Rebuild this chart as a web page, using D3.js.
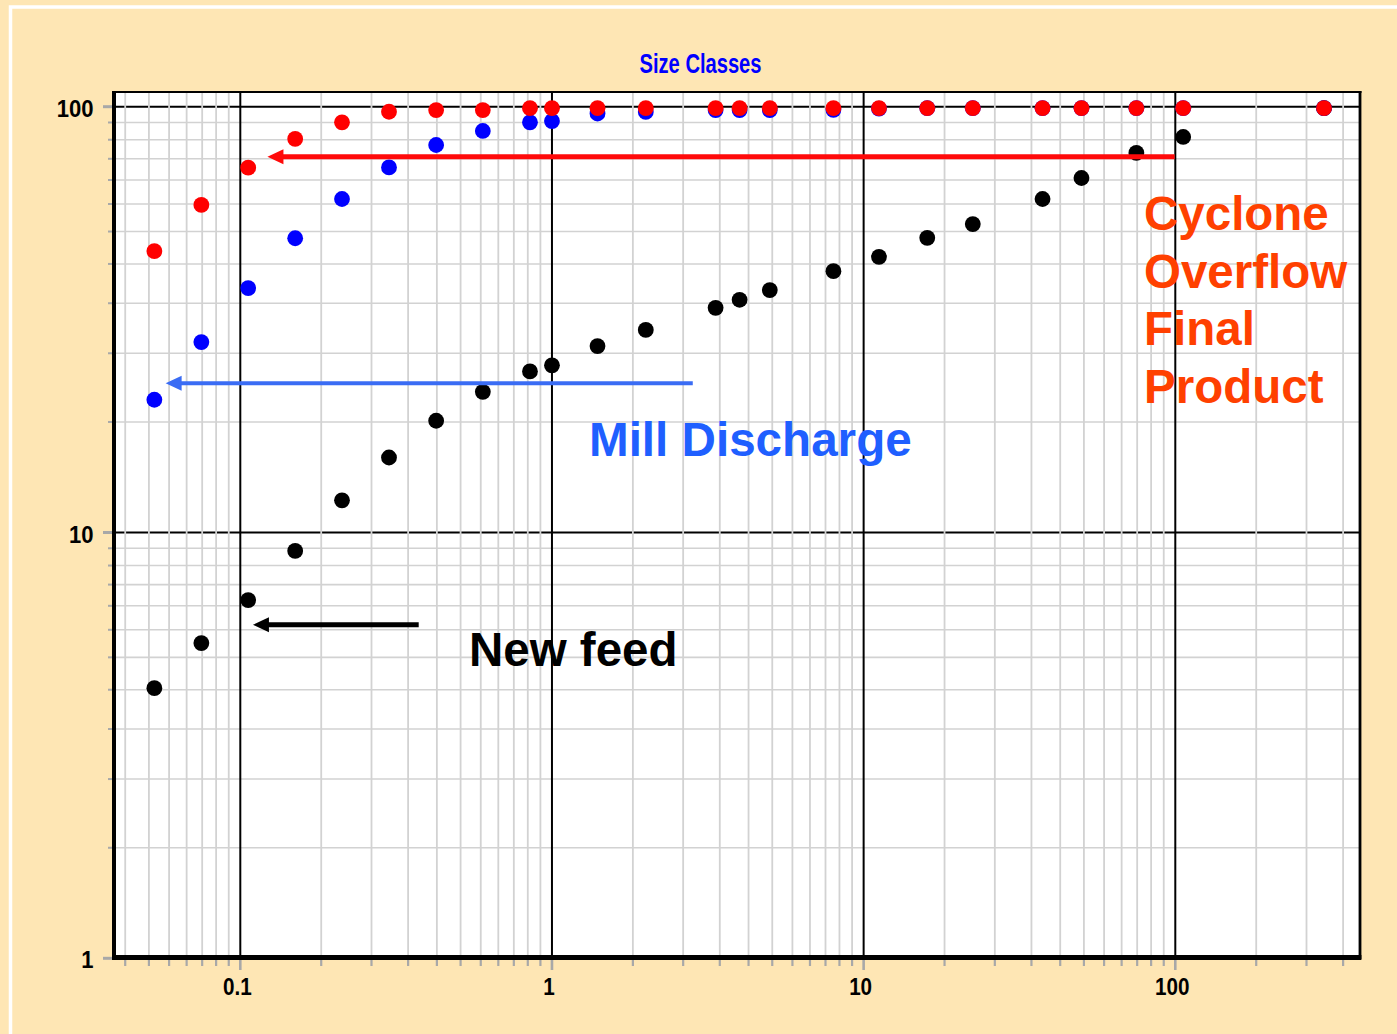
<!DOCTYPE html>
<html>
<head>
<meta charset="utf-8">
<script src="https://cdn.jsdelivr.net/npm/d3@7"></script>
<style>
  html, body { margin: 0; padding: 0; background: #fee6b4; }
  svg { display: block; }
</style>
</head>
<body>
<svg id="chart" width="1397" height="1034"></svg>
<script>
// Sieve size classes (mm) and cumulative % passing for each stream
const sizeClasses = [0.053, 0.075, 0.106, 0.15, 0.212, 0.3, 0.425, 0.6, 0.85, 1.0, 1.4, 2.0,
                     3.35, 4.0, 5.0, 8.0, 11.2, 16, 22.4, 37.5, 50, 75, 106, 300];
const newFeed = [4.31, 5.50, 6.94, 9.05, 11.9, 15.0, 18.3, 21.4, 23.9, 24.7, 27.4, 29.9,
                 33.7, 35.2, 37.1, 41.1, 44.4, 49.2, 53.0, 60.7, 68.0, 77.9, 84.9, 99.2];
const millDischarge = [20.5, 28.0, 37.5, 49.1, 60.7, 72.0, 81.3, 87.7, 91.9, 92.5, 96.4, 97.2,
                       98.2, 98.2, 98.2, 98.3, 99.0, 99.2, 99.2, 99.2, 99.2, 99.2, 99.2, 99.2];
const cycloneOverflow = [45.8, 58.8, 71.9, 84.0, 91.9, 97.3, 98.2, 98.2, 99.2, 99.2, 99.2, 99.2,
                         99.2, 99.2, 99.2, 99.2, 99.2, 99.2, 99.2, 99.2, 99.2, 99.2, 99.2, 99.2];

// Axis ticks
const xMajorTicks = [0.1, 1, 10, 100];
const xTickLabels = ["0.1", "1", "10", "100"];
const yMajorTicks = [1, 10, 100];
const yTickLabels = ["1", "10", "100"];
// minor grid multipliers inside each decade
const minorSteps = [1.818, 2.636, 3.455, 4.273, 5.091, 5.909, 6.727, 7.545, 8.364, 9.182];
const decades = [0.01, 0.1, 1, 10, 100];

// Annotation arrows [x from, x tip, y] in data units
const redArrow = [99.5, 0.1222, 76.3];
const blueArrow = [2.83, 0.0576, 22.4];
const blackArrow = [0.3736, 0.1098, 6.07];

const svg = d3.select("#chart");
const W = 1397, H = 1034;
const box = { left: 114, right: 1360, top: 92, bottom: 957 };

const x = d3.scaleLog().domain([0.1, 100]).range([240.3, 1175.3]);
const y = d3.scaleLog().domain([1, 100]).range([958.3, 106.7]);

const xLo = x.invert(box.left), xHi = x.invert(box.right);
const yLo = y.invert(box.bottom), yHi = y.invert(box.top);

// background and white frame
svg.append("rect").attr("width", W).attr("height", H).attr("fill", "#fee6b4");
svg.append("rect").attr("x", 10.5).attr("y", 7).attr("width", W + 20).attr("height", H + 20)
  .attr("fill", "none").attr("stroke", "#ffffff").attr("stroke-width", 3.5);

// plot area
svg.append("rect").attr("x", box.left).attr("y", box.top)
  .attr("width", box.right - box.left).attr("height", box.bottom - box.top)
  .attr("fill", "#ffffff");

const minorVals = [];
decades.forEach(d => minorSteps.forEach(s => minorVals.push(d * s)));
const xMinor = minorVals.filter(v => v > xLo && v < xHi);
const yMinor = minorVals.filter(v => v > yLo && v < yHi);

const grid = svg.append("g");
// horizontal minor grid
grid.selectAll(".hmin").data(yMinor).join("line")
  .attr("x1", box.left).attr("x2", box.right)
  .attr("y1", d => y(d)).attr("y2", d => y(d))
  .attr("stroke", "#d2d2d2").attr("stroke-width", 1.6);
// horizontal major grid
grid.selectAll(".hmaj").data(yMajorTicks.filter(v => v > yLo && v < yHi)).join("line")
  .attr("x1", box.left).attr("x2", box.right)
  .attr("y1", d => y(d)).attr("y2", d => y(d))
  .attr("stroke", "#000000").attr("stroke-width", 2);
// vertical minor grid
grid.selectAll(".vmin").data(xMinor).join("line")
  .attr("y1", box.top).attr("y2", box.bottom)
  .attr("x1", d => x(d)).attr("x2", d => x(d))
  .attr("stroke", "#d2d2d2").attr("stroke-width", 1.8);
// vertical major grid
grid.selectAll(".vmaj").data(xMajorTicks).join("line")
  .attr("y1", box.top).attr("y2", box.bottom)
  .attr("x1", d => x(d)).attr("x2", d => x(d))
  .attr("stroke", "#000000").attr("stroke-width", 2);

// tick marks outside the frame
const ticks = svg.append("g").attr("stroke", "#a8a8a8");
ticks.selectAll(".yt").data(yMinor).join("line")
  .attr("x1", 108).attr("x2", box.left).attr("y1", d => y(d)).attr("y2", d => y(d))
  .attr("stroke-width", 2);
ticks.selectAll(".ytm").data(yMajorTicks).join("line")
  .attr("x1", 103).attr("x2", box.left).attr("y1", d => y(d)).attr("y2", d => y(d))
  .attr("stroke-width", 3);
ticks.selectAll(".xt").data(xMinor).join("line")
  .attr("y1", box.bottom).attr("y2", 966).attr("x1", d => x(d)).attr("x2", d => x(d))
  .attr("stroke-width", 2.2);
ticks.selectAll(".xtm").data(xMajorTicks).join("line")
  .attr("y1", box.bottom).attr("y2", 970).attr("x1", d => x(d)).attr("x2", d => x(d))
  .attr("stroke-width", 2.6);

// frame (heavier on left and bottom)
const frame = svg.append("g").attr("stroke", "#000000").attr("fill", "none");
frame.append("line").attr("x1", box.left - 2).attr("x2", box.right + 1.5)
  .attr("y1", box.top).attr("y2", box.top).attr("stroke-width", 2.2);
frame.append("line").attr("x1", box.right).attr("x2", box.right)
  .attr("y1", box.top - 1).attr("y2", box.bottom + 2).attr("stroke-width", 2.8);
frame.append("line").attr("x1", box.left).attr("x2", box.left)
  .attr("y1", box.top - 1).attr("y2", box.bottom + 2.5).attr("stroke-width", 4);
frame.append("line").attr("x1", box.left - 2).attr("x2", box.right + 1.4)
  .attr("y1", box.bottom + 0.5).attr("y2", box.bottom + 0.5).attr("stroke-width", 5);

// tick labels
function squeeze(sel, factor) {
  sel.each(function () {
    const w = this.getComputedTextLength();
    d3.select(this).attr("textLength", w * factor).attr("lengthAdjust", "spacingAndGlyphs");
  });
}
const labelFont = "'Liberation Sans', Arial, sans-serif";
svg.append("g").selectAll("text").data(yMajorTicks).join("text")
  .attr("x", 93.5).attr("y", d => y(d) + 10)
  .attr("text-anchor", "end")
  .attr("font-family", labelFont).attr("font-size", 24.5).attr("font-weight", "bold")
  .attr("fill", "#000").text((d, i) => yTickLabels[i])
  .call(squeeze, 0.9);
svg.append("g").selectAll("text").data(xMajorTicks).join("text")
  .attr("x", d => x(d) - 3).attr("y", 995)
  .attr("text-anchor", "middle")
  .attr("font-family", labelFont).attr("font-size", 24).attr("font-weight", "bold")
  .attr("fill", "#000").text((d, i) => xTickLabels[i])
  .call(squeeze, 0.86);

// title
svg.append("text").attr("x", 700.5).attr("y", 73)
  .attr("text-anchor", "middle")
  .attr("font-family", labelFont).attr("font-size", 27).attr("font-weight", "bold")
  .attr("fill", "#0000ff").text("Size Classes")
  .attr("textLength", 122).attr("lengthAdjust", "spacingAndGlyphs");

// data points
const series = [
  { values: newFeed, color: "#000000" },
  { values: millDischarge, color: "#0000ff" },
  { values: cycloneOverflow, color: "#ff0000" }
];
series.forEach(s => {
  svg.append("g").selectAll("circle").data(sizeClasses).join("circle")
    .attr("cx", d => x(d)).attr("cy", (d, i) => y(s.values[i]))
    .attr("r", 7.9).attr("fill", s.color);
});

// annotation arrows
function arrow(spec, color, width) {
  const [xf, xt, yv] = spec;
  const x0 = x(xf), x1 = x(xt), yy = y(yv);
  const g = svg.append("g");
  g.append("line").attr("x1", x0).attr("x2", x1 + 14).attr("y1", yy).attr("y2", yy)
    .attr("stroke", color).attr("stroke-width", width);
  g.append("path")
    .attr("d", `M${x1},${yy} L${x1 + 16},${yy - 7.5} L${x1 + 16},${yy + 7.5} Z`)
    .attr("fill", color);
}
arrow(redArrow, "#ff0a0a", 5);
arrow(blueArrow, "#3a6cf4", 4);
arrow(blackArrow, "#000000", 5);

// annotation texts
const bigFont = "'Liberation Sans', Arial, sans-serif";
const redText = ["Cyclone", "Overflow", "Final", "Product"];
svg.append("g").selectAll("text").data(redText).join("text")
  .attr("x", 1144).attr("y", (d, i) => 230 + i * 57.7)
  .attr("font-family", bigFont).attr("font-size", 47.5).attr("font-weight", "bold")
  .attr("fill", "#ff4000").text(d => d);

svg.append("text").attr("x", 589).attr("y", 456)
  .attr("font-family", bigFont).attr("font-size", 47.6).attr("font-weight", "bold")
  .attr("fill", "#1f5fff").text("Mill Discharge");

svg.append("text").attr("x", 469).attr("y", 666)
  .attr("font-family", bigFont).attr("font-size", 47.5).attr("font-weight", "bold")
  .attr("fill", "#000000").text("New feed");
</script>
</body>
</html>
